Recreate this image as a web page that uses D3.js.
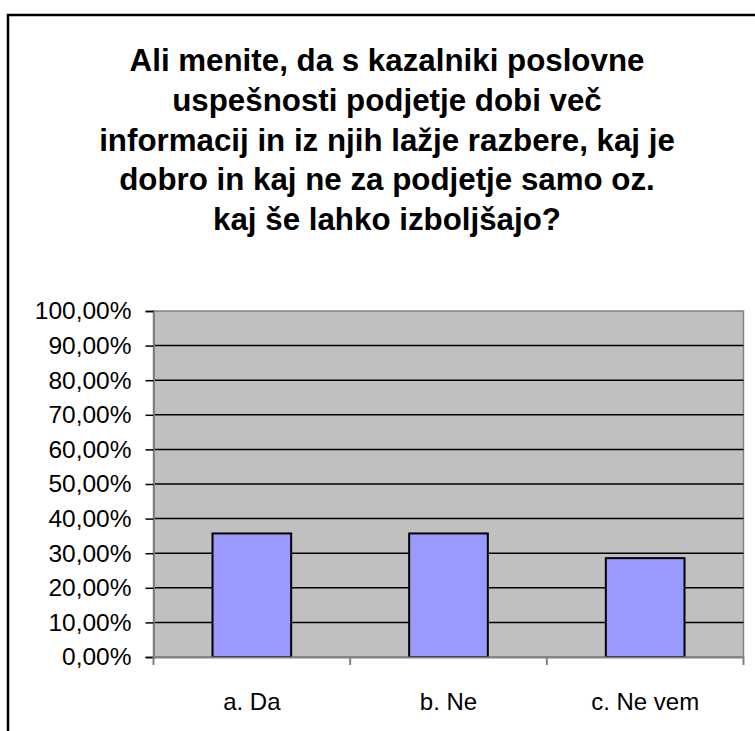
<!DOCTYPE html>
<html>
<head>
<meta charset="utf-8">
<script src="https://cdn.jsdelivr.net/npm/d3@7"></script>
<style>
  body { margin: 0; background: #fff; }
  svg { display: block; font-family: "Liberation Sans", Arial, sans-serif; }
</style>
</head>
<body>
<div id="chart"></div>
<script>
// data
var categories = ["a. Da", "b. Ne", "c. Ne vem"];
var values = [35.71, 35.71, 28.57];
var yTicks = [0, 10, 20, 30, 40, 50, 60, 70, 80, 90, 100];
var titleLines = [
  "Ali menite, da s kazalniki poslovne",
  "uspešnosti podjetje dobi več",
  "informacij in iz njih lažje razbere, kaj je",
  "dobro in kaj ne za podjetje samo oz.",
  "kaj še lahko izboljšajo?"
];

var W = 755, H = 731;
var plot = {left: 153.5, right: 743.5, top: 311, bottom: 657};

var svg = d3.select("#chart").append("svg")
  .attr("width", W).attr("height", H);

// outer frame (runs past the picture edge right and bottom)
svg.append("rect")
  .attr("x", 8).attr("y", 15).attr("width", 800).attr("height", 800)
  .attr("fill", "none").attr("stroke", "#000").attr("stroke-width", 2.5);

// title
svg.append("g").selectAll("text").data(titleLines).enter().append("text")
  .attr("x", 387).attr("y", function(d, i) { return 71 + i * 39.8; })
  .attr("text-anchor", "middle")
  .attr("font-size", "31.3px").attr("font-weight", "bold")
  .attr("fill", "#000")
  .text(function(d) { return d; });

var x = d3.scaleBand().domain(categories).range([plot.left, plot.right]).padding(0);
var y = d3.scaleLinear().domain([0, 100]).range([plot.bottom, plot.top]);

// plot background
svg.append("rect")
  .attr("x", plot.left).attr("y", plot.top)
  .attr("width", plot.right - plot.left).attr("height", plot.bottom - plot.top)
  .attr("fill", "#c0c0c0").attr("stroke", "#808080").attr("stroke-width", 1.5);

// gridlines
svg.append("g").selectAll("line").data(yTicks.filter(function(d) { return d > 0 && d < 100; }))
  .enter().append("line")
  .attr("x1", plot.left).attr("x2", plot.right)
  .attr("y1", function(d) { return y(d); }).attr("y2", function(d) { return y(d); })
  .attr("stroke", "#000").attr("stroke-width", 1.5);

// bars
var bw = x.bandwidth() * 0.4;
svg.append("g").selectAll("rect").data(values).enter().append("rect")
  .attr("x", function(d, i) { return x(categories[i]) + (x.bandwidth() - bw) / 2; })
  .attr("y", function(d) { return y(d); })
  .attr("width", bw)
  .attr("height", function(d) { return y(0) - y(d); })
  .attr("fill", "#9999ff").attr("stroke", "#000").attr("stroke-width", 2);

// y axis
var yAxis = svg.append("g")
  .attr("transform", "translate(" + plot.left + ",0)")
  .call(d3.axisLeft(y).tickValues(yTicks).tickSize(8).tickPadding(14)
    .tickFormat(function(d) { return d.toFixed(2).replace(".", ",") + "%"; }));
yAxis.select(".domain").attr("stroke", "#808080").attr("stroke-width", 2);
yAxis.selectAll(".tick line").attr("stroke", "#000").attr("stroke-width", 1.5);
yAxis.selectAll("text").attr("font-size", "24.5px").attr("fill", "#000")
  .attr("font-family", "'Liberation Sans', Arial, sans-serif");

// x axis
var xAxis = svg.append("g")
  .attr("transform", "translate(0," + plot.bottom + ")")
  .call(d3.axisBottom(x).tickSize(0).tickPadding(36));
xAxis.select(".domain").attr("stroke", "#808080").attr("stroke-width", 2);
xAxis.selectAll("text").attr("font-size", "24px").attr("fill", "#000")
  .attr("font-family", "'Liberation Sans', Arial, sans-serif");
// category boundary ticks
var bounds = categories.map(function(c) { return x(c); }).concat([plot.right]);
xAxis.append("g").selectAll("line").data(bounds).enter().append("line")
  .attr("x1", function(d) { return d; }).attr("x2", function(d) { return d; })
  .attr("y1", 0).attr("y2", 8)
  .attr("stroke", "#808080").attr("stroke-width", 2);
</script>
</body>
</html>
